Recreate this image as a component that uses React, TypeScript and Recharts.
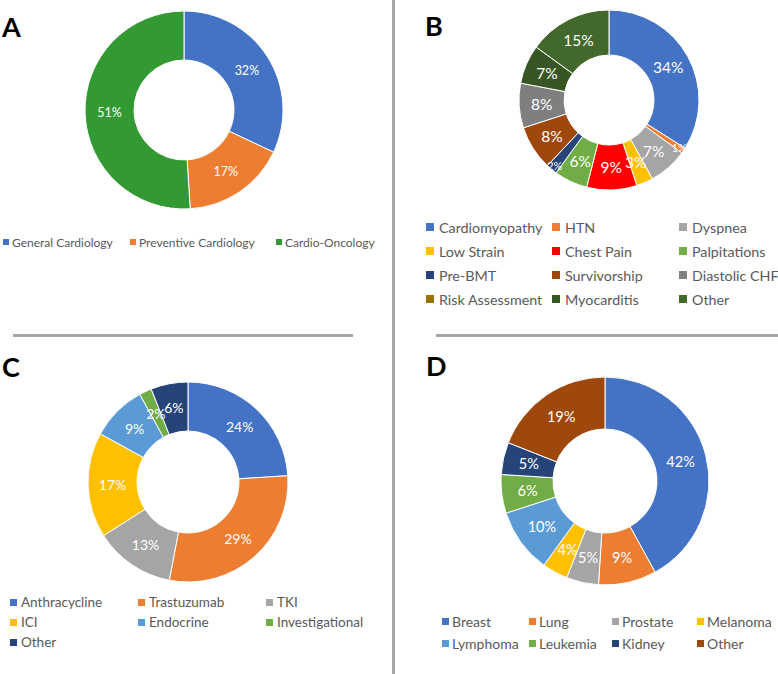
import React from 'react';
import { PieChart, Pie, Cell, Legend } from 'recharts';

// panel A - clinic type
const clinicNames = ['General Cardiology', 'Preventive Cardiology', 'Cardio-Oncology'];
const clinicValues = [32, 17, 51];
const clinicColors = ['#4472C4', '#ED7D31', '#339933'];

// panel B - referral reason
const reasonNames = [
  'Cardiomyopathy', 'HTN', 'Dyspnea', 'Low Strain', 'Chest Pain', 'Palpitations',
  'Pre-BMT', 'Survivorship', 'Diastolic CHF', 'Risk Assessment', 'Myocarditis', 'Other',
];
const reasonValues = [34, 1, 7, 3, 9, 6, 2, 8, 8, 0, 7, 15];
const reasonColors = [
  '#4472C4', '#ED7D31', '#A5A5A5', '#FFC000', '#FF0000', '#70AD47',
  '#264478', '#9E480E', '#7F7F7F', '#997300', '#375623', '#43682B',
];

// panel C - therapy
const therapyNames = ['Anthracycline', 'Trastuzumab', 'TKI', 'ICI', 'Endocrine', 'Investigational', 'Other'];
const therapyValues = [24, 29, 13, 17, 9, 2, 6];
const therapyColors = ['#4472C4', '#ED7D31', '#A5A5A5', '#FFC000', '#5B9BD5', '#70AD47', '#264478'];

// panel D - cancer type
const cancerNames = ['Breast', 'Lung', 'Prostate', 'Melanoma', 'Lymphoma', 'Leukemia', 'Kidney', 'Other'];
const cancerValues = [42, 9, 5, 4, 10, 6, 5, 19];
const cancerColors = ['#4472C4', '#ED7D31', '#A5A5A5', '#FFC000', '#5B9BD5', '#70AD47', '#264478', '#9E480E'];

const FONT = 'Lato, "Open Sans", sans-serif';
const RAD = Math.PI / 180;

type LegendCfg = { cols: number[]; rowY: number; rowH: number; size: number; sq: number; gap: number };

type PanelProps = {
  names: string[];
  values: number[];
  colors: string[];
  left: number;
  top: number;
  width: number;
  height: number;
  cx: number;
  cy: number;
  inner: number;
  outer: number;
  labelSize: number;
  legend: LegendCfg;
  letter: string;
  letterX: number;
  letterY: number;
};

const DonutPanel = (p: PanelProps) => {
  const data = p.names.map((name, i) => ({ name, value: p.values[i] }));

  const renderLabel = (props: any) => {
    const { cx, cy, midAngle, innerRadius, outerRadius, value } = props;
    if (!value) return null;
    const small = value <= 2 && p.values.length > 10;
    const r = small ? outerRadius - 5 : (innerRadius + outerRadius) / 2;
    const x = cx + r * Math.cos(-midAngle * RAD);
    const y = cy + r * Math.sin(-midAngle * RAD);
    return (
      <text x={x} y={y} fill="#fff" textAnchor="middle" dominantBaseline="central"
        fontSize={small ? p.labelSize * 0.7 : p.labelSize} fontFamily={FONT}>
        {value}%
      </text>
    );
  };

  const lg = p.legend;
  const renderLegend = () => (
    <div style={{ position: 'relative', width: p.width, height: 0 }}>
      {p.names.map((name, i) => {
        const col = i % lg.cols.length;
        const row = Math.floor(i / lg.cols.length);
        const y = lg.rowY + row * lg.rowH;
        return (
          <div key={name} style={{
            position: 'absolute', left: lg.cols[col], top: y - lg.rowH / 2, height: lg.rowH,
            display: 'flex', alignItems: 'center', whiteSpace: 'nowrap',
            fontFamily: FONT, fontSize: lg.size, color: '#595959',
          }}>
            <span style={{ width: lg.sq, height: lg.sq, background: p.colors[i], marginRight: lg.gap, display: 'inline-block' }} />
            {name}
          </div>
        );
      })}
    </div>
  );

  return (
    <div style={{ position: 'absolute', left: p.left, top: p.top, width: p.width, height: p.height }}>
      <PieChart width={p.width} height={p.height} margin={{ top: 0, right: 0, bottom: 0, left: 0 }}>
        <Pie data={data} dataKey="value" nameKey="name" cx={p.cx} cy={p.cy}
          innerRadius={p.inner} outerRadius={p.outer} startAngle={90} endAngle={-270}
          stroke="#fff" strokeWidth={1} label={renderLabel} labelLine={false}
          isAnimationActive={false}>
          {data.map((d, i) => <Cell key={d.name} fill={p.colors[i]} />)}
        </Pie>
        <Legend layout="horizontal" verticalAlign="middle" align="center"
          content={renderLegend}
          wrapperStyle={{ left: 0, top: 0, width: p.width, height: 0 }} />
      </PieChart>
      <div style={{
        position: 'absolute', left: p.letterX, top: p.letterY, fontFamily: FONT,
        fontWeight: 'bold', fontSize: 27, lineHeight: '28px', color: '#000',
      }}>
        {p.letter}
      </div>
    </div>
  );
};

const App = () => (
  <div style={{ position: 'absolute', left: 0, top: 0, width: 778, height: 674, background: '#fff' }}>
    <DonutPanel names={clinicNames} values={clinicValues} colors={clinicColors}
      left={0} top={0} width={390} height={260} cx={184} cy={110} inner={50} outer={99}
      labelSize={12.5}
      legend={{ cols: [3, 130, 276], rowY: 242, rowH: 20, size: 12, sq: 6, gap: 3 }}
      letter="A" letterX={2} letterY={13} />
    <DonutPanel names={reasonNames} values={reasonValues} colors={reasonColors}
      left={390} top={0} width={388} height={320} cx={219} cy={100} inner={45} outer={90}
      labelSize={15.5}
      legend={{ cols: [36, 162, 289], rowY: 227, rowH: 24, size: 14.3, sq: 8, gap: 5 }}
      letter="B" letterX={35} letterY={12} />
    <DonutPanel names={therapyNames} values={therapyValues} colors={therapyColors}
      left={0} top={320} width={390} height={354} cx={188} cy={162} inner={51} outer={100}
      labelSize={14}
      legend={{ cols: [10, 138, 266], rowY: 282, rowH: 20, size: 13.5, sq: 7, gap: 4 }}
      letter="C" letterX={2} letterY={33} />
    <DonutPanel names={cancerNames} values={cancerValues} colors={cancerColors}
      left={390} top={320} width={388} height={354} cx={215} cy={161} inner={52} outer={104}
      labelSize={14.5}
      legend={{ cols: [52, 139, 222, 307], rowY: 301, rowH: 22, size: 14, sq: 7, gap: 3 }}
      letter="D" letterX={36} letterY={32} />
    <div style={{ position: 'absolute', left: 392, top: 0, width: 3, height: 674, background: '#A6A6A6' }} />
    <div style={{ position: 'absolute', left: 13, top: 334, width: 340, height: 3, background: '#A6A6A6' }} />
    <div style={{ position: 'absolute', left: 436, top: 334, width: 342, height: 3, background: '#A6A6A6' }} />
  </div>
);

export default App;
